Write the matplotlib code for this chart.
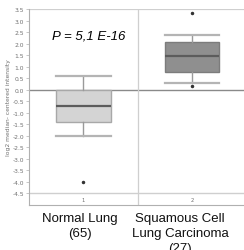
import numpy as np
import matplotlib
matplotlib.use("Agg")
import matplotlib.pyplot as plt

# Box statistics (log2 median-centered intensity)
groups = ["1", "2"]
group_labels = ["Normal Lung\n(65)", "Squamous Cell\nLung Carcinoma\n(27)"]
medians = [-0.70, 1.45]
q1 = [-1.42, 0.78]
q3 = [0.00, 2.09]
whislo = [-2.00, 0.28]
whishi = [0.60, 2.39]
fliers = [[-4.0], [3.33, 0.15]]
p_text = "P = 5,1 E-16"

box_fill = ["#d4d4d4", "#8f8f8f"]
box_edge = ["#a8a8a8", "#7c7c7c"]

stats = []
for i in range(len(groups)):
    stats.append(dict(med=medians[i], q1=q1[i], q3=q3[i],
                      whislo=whislo[i], whishi=whishi[i], fliers=fliers[i]))

fig = plt.figure(figsize=(2.44, 2.51), dpi=100)
ax = fig.add_axes([29 / 244, 1 - 206 / 251, 1 - 29 / 244 + 0.01, (206 - 10) / 251])

pos = [1, 2]
bp = ax.bxp(stats, positions=pos, widths=0.5, patch_artist=True,
            showfliers=True, manage_ticks=False,
            medianprops=dict(color="#5c5c5c", linewidth=1.6),
            whiskerprops=dict(color="#9a9a9a", linewidth=1.0),
            capprops=dict(color="#b4b4b4", linewidth=1.6),
            flierprops=dict(marker="o", markersize=1.5, markerfacecolor="#333333",
                            markeredgecolor="#333333"),
            zorder=3)
for patch, fc, ec in zip(bp["boxes"], box_fill, box_edge):
    patch.set_facecolor(fc)
    patch.set_edgecolor(ec)
    patch.set_linewidth(1.0)
for cap in bp["caps"]:
    x0, x1 = cap.get_xdata()
    c = (x0 + x1) / 2
    cap.set_xdata([c - 0.25, c + 0.25])

ax.set_xlim(0.5, 2.5)
ax.set_ylim(-5.0, 3.5)

# reference lines
ax.axhline(0, color="#8a8a8a", linewidth=1.0, zorder=2)
ax.axhline(-4.5, color="#cfcfcf", linewidth=1.0, zorder=2)
ax.axhline(3.5, color="#cfcfcf", linewidth=1.6, zorder=2)
ax.axvline(1.5, color="#cfcfcf", linewidth=0.9, zorder=2)

for sp in ["top", "right"]:
    ax.spines[sp].set_visible(False)
for sp in ["left", "bottom"]:
    ax.spines[sp].set_color("#b0b0b0")
    ax.spines[sp].set_linewidth(0.8)

ticks = np.arange(-4.5, 3.51, 0.5)
ax.set_yticks(ticks)
ax.set_yticklabels([f"{t:.1f}" for t in ticks], fontsize=4.3, color="#707070")
ax.tick_params(axis="y", length=2, width=0.5, color="#b0b0b0", pad=1.5)
ax.set_xticks([])

ax.set_ylabel("log2 median- centered intensity", fontsize=4.3, color="#707070", labelpad=1)

for p, g in zip(pos, groups):
    ax.text(p, -4.76, g, ha="center", va="center", fontsize=3.8, color="#707070")

ax.text(1.05, 2.37, p_text, ha="center", va="center", fontsize=9.5,
        style="italic", family="Liberation Sans", color="black")

for p, lab, xoff in zip(pos, group_labels, [-0.03, -0.11]):
    ax.text(p + xoff, -5.3, lab, ha="center", va="top", fontsize=9.5,
            family="Liberation Sans", linespacing=1.35, color="#111111", clip_on=False)

fig.savefig("out.png", dpi=100)
